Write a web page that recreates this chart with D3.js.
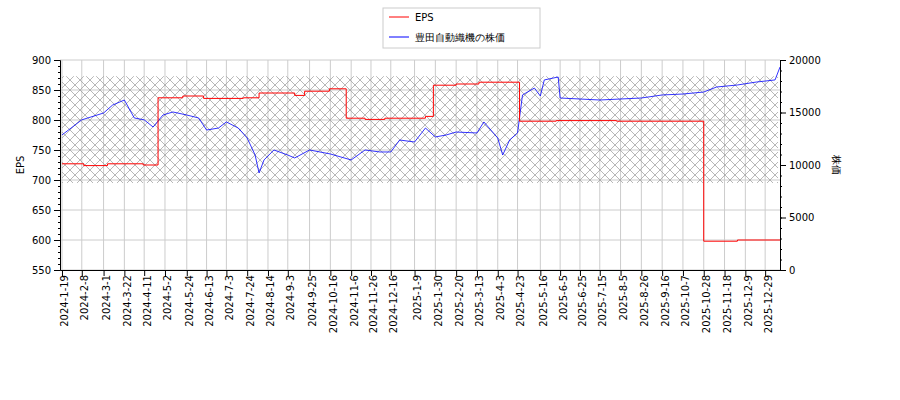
<!DOCTYPE html>
<html><head><meta charset="utf-8">
<script src="https://cdn.jsdelivr.net/npm/d3@7"></script>
<style>body{margin:0;background:#fff}text{font-family:"DejaVu Sans",sans-serif;font-size:10px}</style>
</head><body><svg id="c" width="900" height="400"></svg>
<script>
// DATA
const epsDates = ['2024-01-19','2024-02-10','2024-03-05','2024-04-10','2024-04-25','2024-05-20','2024-06-10','2024-07-20','2024-08-05','2024-09-10','2024-09-20','2024-10-15','2024-11-01','2024-11-20','2024-12-10','2025-01-20','2025-01-28','2025-02-20','2025-03-15','2025-04-25','2025-06-01','2025-08-01','2025-10-28','2025-12-01','2026-01-13'];
const epsValues = [727,724,727,725,837,840,836,837,845,841,848,852,803,801,803,806,858,860,863,798,799,798,598,600,600];
const priceDates = ['2024-01-19','2024-02-08','2024-03-01','2024-03-10','2024-03-22','2024-04-01','2024-04-11','2024-04-20','2024-04-30','2024-05-10','2024-05-24','2024-06-05','2024-06-13','2024-06-25','2024-07-03','2024-07-15','2024-07-24','2024-08-01','2024-08-05','2024-08-10','2024-08-20','2024-09-03','2024-09-10','2024-09-25','2024-10-16','2024-11-06','2024-11-20','2024-12-05','2024-12-16','2024-12-25','2025-01-09','2025-01-20','2025-01-30','2025-02-10','2025-02-20','2025-03-13','2025-03-20','2025-04-03','2025-04-08','2025-04-15','2025-04-23','2025-04-28','2025-05-10','2025-05-16','2025-05-20','2025-06-03','2025-06-05','2025-07-15','2025-08-26','2025-09-16','2025-10-07','2025-10-28','2025-11-10','2025-12-01','2025-12-20','2026-01-08','2026-01-13'];
const priceValues = [12860,14300,14950,15700,16190,14480,14300,13620,14760,15050,14760,14480,13330,13520,14100,13520,12570,10950,9240,10480,11430,10950,10670,11430,11050,10480,11430,11240,11240,12380,12190,13520,12670,12860,13140,13050,14100,12570,10950,12380,13050,16670,17330,16570,18100,18380,16380,16190,16380,16670,16760,16950,17430,17620,17900,18100,19330];
const tickDates = ['2024-01-19','2024-02-08','2024-03-01','2024-03-22','2024-04-11','2024-05-02','2024-05-24','2024-06-13','2024-07-03','2024-07-24','2024-08-14','2024-09-03','2024-09-25','2024-10-16','2024-11-06','2024-11-26','2024-12-16','2025-01-09','2025-01-30','2025-02-20','2025-03-13','2025-04-03','2025-04-23','2025-05-16','2025-06-05','2025-06-25','2025-07-15','2025-08-05','2025-08-26','2025-09-16','2025-10-07','2025-10-28','2025-11-18','2025-12-09','2025-12-29'];
const bandRange = [695, 873];

const parse = d3.timeParse('%Y-%m-%d');
const M = {left: 60, right: 780, top: 60, bottom: 270};
const svg = d3.select('#c');
const x = d3.scaleTime().domain([parse('2024-01-17'), parse('2026-01-13')]).range([M.left, M.right]);
const y = d3.scaleLinear().domain([550, 900]).range([M.bottom, M.top]);
const y2 = d3.scaleLinear().domain([0, 20000]).range([M.bottom, M.top]);

const defs = svg.append('defs');
const pat = defs.append('pattern').attr('id', 'hatch').attr('patternUnits', 'userSpaceOnUse').attr('width', 10).attr('height', 10);
pat.append('path').attr('d', 'M0,0L10,10M10,0L0,10').attr('stroke', '#999').attr('stroke-width', 0.7);
defs.append('clipPath').attr('id', 'clip').append('rect').attr('x', M.left).attr('y', M.top).attr('width', M.right - M.left).attr('height', M.bottom - M.top);

// grid
const ticks = tickDates.map(parse);
svg.append('g').selectAll('line').data(ticks).join('line')
	.attr('x1', d => x(d)).attr('x2', d => x(d)).attr('y1', M.top).attr('y2', M.bottom)
	.attr('stroke', '#ccc');
svg.append('g').selectAll('line').data(d3.range(550, 901, 50)).join('line')
	.attr('x1', M.left).attr('x2', M.right).attr('y1', d => y(d)).attr('y2', d => y(d))
	.attr('stroke', '#ccc');

svg.append('rect').attr('x', M.left + 2).attr('width', M.right - M.left - 4)
	.attr('y', y(bandRange[1])).attr('height', y(bandRange[0]) - y(bandRange[1]))
	.attr('fill', 'url(#hatch)');

const g = svg.append('g').attr('clip-path', 'url(#clip)');
const pts = priceDates.map((d, i) => [parse(d), priceValues[i]]);
g.append('path').datum(pts).attr('fill', 'none').attr('stroke', 'blue').attr('stroke-width', 0.8)
	.attr('d', d3.line().x(d => x(d[0])).y(d => y2(d[1])));
const eps = epsDates.map((d, i) => [parse(d), epsValues[i]]);
g.append('path').datum(eps).attr('fill', 'none').attr('stroke', 'red').attr('stroke-width', 1)
	.attr('d', d3.line().curve(d3.curveStepAfter).x(d => x(d[0])).y(d => y(d[1])));

// axes
svg.append('g').attr('transform', `translate(${M.left},0)`).call(d3.axisLeft(y).tickValues(d3.range(550, 901, 50)).tickSizeOuter(0));
svg.append('g').attr('transform', `translate(${M.left},0)`).call(d3.axisLeft(y).tickValues(d3.range(550, 901, 10)).tickSize(2).tickFormat('').tickSizeOuter(0));
svg.append('g').attr('transform', `translate(${M.right},0)`).call(d3.axisRight(y2).tickValues(d3.range(0, 20001, 5000)).tickFormat(d3.format('d')).tickSizeOuter(0));
svg.append('g').attr('transform', `translate(${M.right},0)`).call(d3.axisRight(y2).tickValues(d3.range(0, 20001, 1000)).tickSize(2).tickFormat('').tickSizeOuter(0));
const xa = svg.append('g').attr('transform', `translate(0,${M.bottom})`)
	.call(d3.axisBottom(x).tickValues(ticks).tickFormat(d3.timeFormat('%Y-%-m-%-d')).tickSizeOuter(0));
xa.selectAll('text').attr('transform', 'rotate(-90)').attr('text-anchor', 'end').attr('dx', '-0.5em').attr('dy', '-0.3em');
svg.selectAll('.domain').attr('stroke', '#000');
svg.selectAll('.tick text').attr('font-size', 10).attr('fill', '#000');
svg.append('text').attr('transform', 'translate(24,165) rotate(-90)').attr('text-anchor', 'middle').text('EPS');
svg.append('text').attr('transform', 'translate(833,165) rotate(90)').attr('text-anchor', 'middle').text('株価');

// legend
const lg = svg.append('g');
lg.append('rect').attr('x', 383).attr('y', 8).attr('width', 157).attr('height', 40).attr('fill', '#fff').attr('stroke', '#ccc');
[['EPS', 'red'], ['豊田自動織機の株価', 'blue']].forEach((s, i) => {
	lg.append('line').attr('x1', 389).attr('x2', 409).attr('y1', 17 + i * 20).attr('y2', 17 + i * 20).attr('stroke', s[1]);
	lg.append('text').attr('x', 415).attr('y', 21 + i * 20).attr('font-size', 11).text(s[0]);
});
</script></body></html>
